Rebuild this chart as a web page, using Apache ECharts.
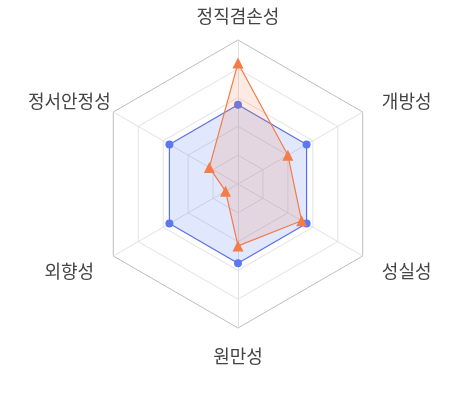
<!DOCTYPE html>
<html>
<head>
<meta charset="utf-8">
<script src="https://cdn.jsdelivr.net/npm/echarts@6/dist/echarts.min.js"></script>
<style>
html,body{margin:0;padding:0;background:#fff;}
#chart{width:461px;height:402px;}
</style>
</head>
<body>
<div id="chart"></div>
<script>
// Indicators listed counter-clockwise from the top (ECharts radar order)
const indicators = ['정직겸손성', '정서안정성', '외향성', '원만성', '성실성', '개방성'];
const maxValue = 100;
const averageValues = [55, 55, 55, 55, 55, 55];
const personValues = [84, 23, 10, 43, 51, 40];

const labelStyleOf = {
  '정직겸손성': 't',
  '원만성': 'b',
  '정서안정성': 'u',
  '개방성': 'u',
  '외향성': 'l',
  '성실성': 'l'
};

const baseFont = { color: '#444', fontSize: 18, fontFamily: '"Noto Sans CJK KR", "Noto Sans", sans-serif' };

const chart = echarts.init(document.getElementById('chart'));
chart.setOption({
  animation: false,
  backgroundColor: '#fff',
  radar: {
    center: [238, 184],
    radius: 144,
    startAngle: 90,
    splitNumber: 5,
    shape: 'polygon',
    indicator: indicators.map(n => ({ name: n, max: maxValue })),
    nameGap: 19,
    axisName: {
      ...baseFont,
      formatter: (name) => '{' + labelStyleOf[name] + '|' + name + '}',
      rich: {
        t: { ...baseFont, lineHeight: 10 },
        b: { ...baseFont, lineHeight: 18 },
        u: { ...baseFont, lineHeight: 18, width: 55, align: 'center', padding: [0, 0, 3, 0] },
        l: { ...baseFont, lineHeight: 18, width: 55, align: 'center', padding: [11, 0, 0, 0] }
      }
    },
    splitArea: { show: false },
    splitLine: {
      lineStyle: { color: ['#e2e2e2', '#e2e2e2', '#e2e2e2', '#e2e2e2', '#e2e2e2', '#bdbdbd'], width: 1 }
    },
    axisLine: { lineStyle: { color: '#e2e2e2', width: 1 } }
  },
  series: [
    {
      type: 'radar',
      z: 2,
      data: [{
        value: averageValues,
        name: '평균',
        symbol: 'circle',
        symbolSize: 8,
        lineStyle: { color: '#5b6fe3', width: 1.2 },
        itemStyle: { color: '#5b78f0' },
        areaStyle: { color: 'rgba(91,120,240,0.26)' }
      }]
    },
    {
      type: 'radar',
      z: 3,
      data: [{
        value: personValues,
        name: '본인',
        symbol: 'triangle',
        symbolSize: 11,
        lineStyle: { color: '#f47c48', width: 1.2 },
        itemStyle: { color: '#f47c48' },
        areaStyle: { color: 'rgba(244,124,72,0.22)' }
      }]
    }
  ]
});
</script>
</body>
</html>
